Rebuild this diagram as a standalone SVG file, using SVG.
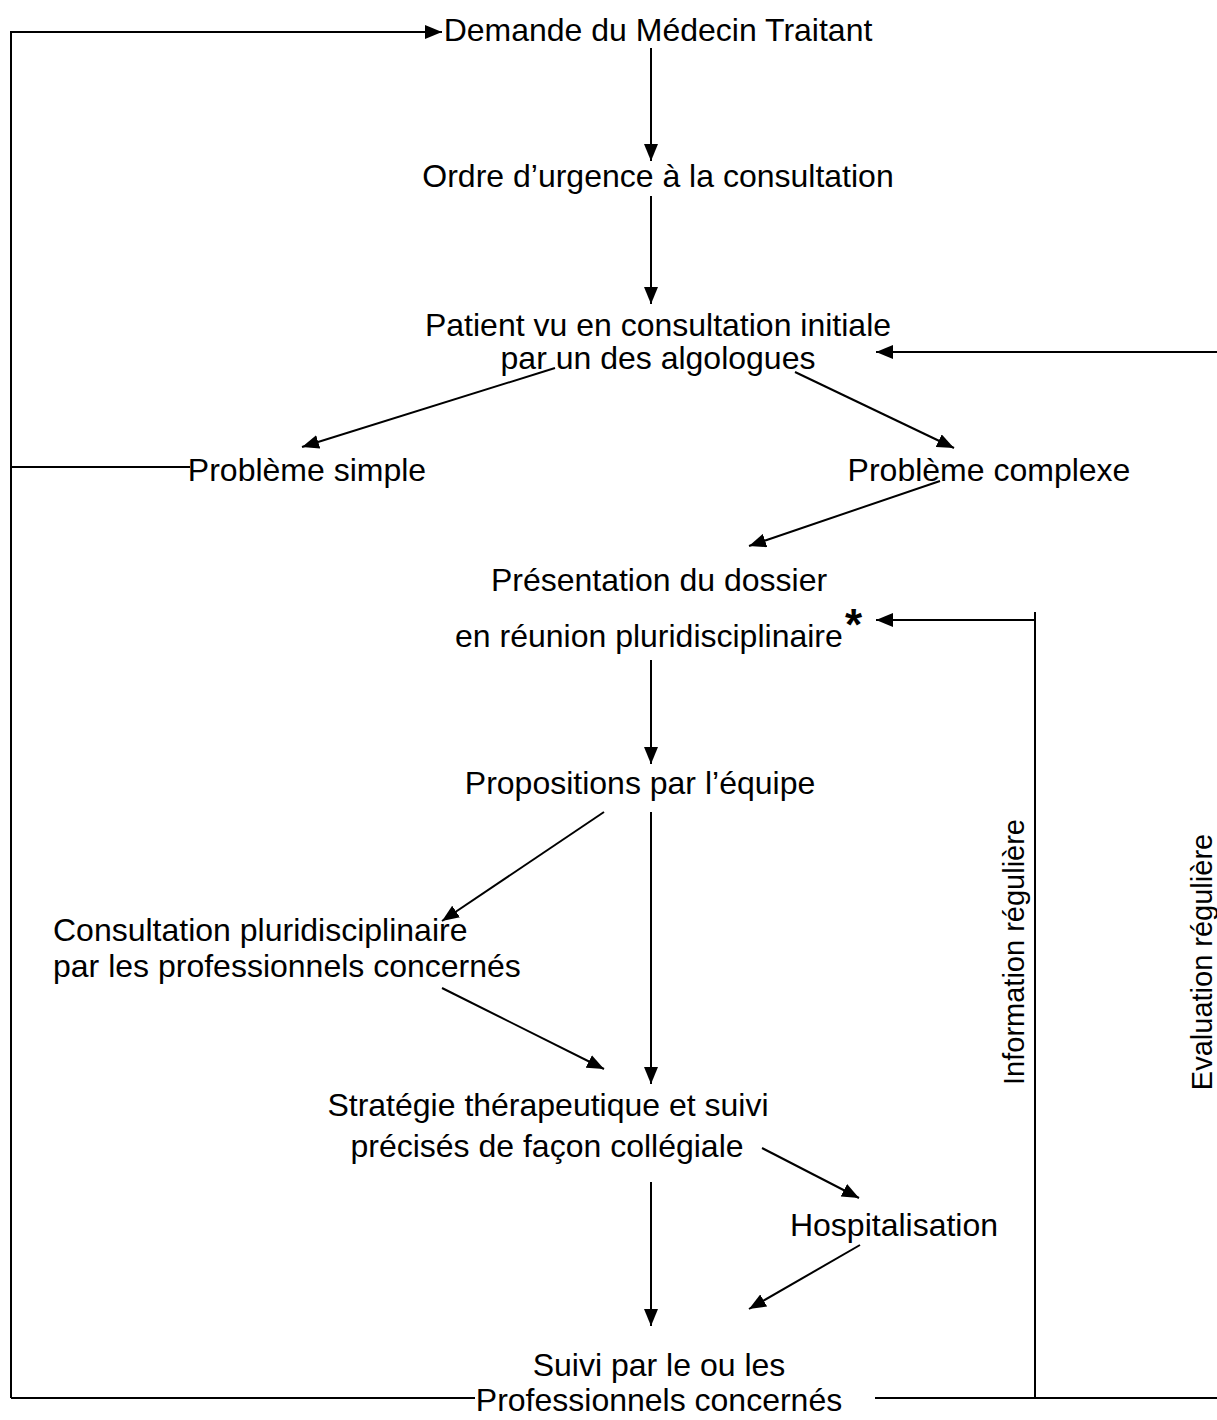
<svg xmlns="http://www.w3.org/2000/svg" width="1217" height="1420" viewBox="0 0 1217 1420">
<style>
text{font-family:"Liberation Sans",Arial,sans-serif;font-size:32px;fill:#000}
.m{text-anchor:middle}
.c line,.c polyline{stroke:#000;stroke-width:2;fill:none}
.r{font-size:29px;text-anchor:middle}
</style>
<defs>
<marker id="ah" markerUnits="userSpaceOnUse" markerWidth="17" markerHeight="14" refX="17" refY="7" viewBox="0 0 17 14" orient="auto">
<path d="M0,0 L17,7 L0,14 z" fill="#000"/>
</marker>
</defs>
<rect width="1217" height="1420" fill="#fff"/>
<g class="c" id="connectors">
<polyline points="11,1398 11,32 442,32" marker-end="url(#ah)"/>
<line x1="11" y1="467" x2="190" y2="467"/>
<line x1="11" y1="1398" x2="475" y2="1398"/>
<line x1="875" y1="1398" x2="1217" y2="1398"/>
<line x1="1035" y1="612" x2="1035" y2="1398"/>
<line x1="1035" y1="620" x2="876" y2="620" marker-end="url(#ah)"/>
<line x1="1217" y1="352" x2="876" y2="352" marker-end="url(#ah)"/>
<line x1="651" y1="48" x2="651" y2="161" marker-end="url(#ah)"/>
<line x1="651" y1="196" x2="651" y2="304" marker-end="url(#ah)"/>
<line x1="555" y1="368" x2="302" y2="447" marker-end="url(#ah)"/>
<line x1="795" y1="372" x2="954" y2="448" marker-end="url(#ah)"/>
<line x1="940" y1="481" x2="749" y2="546" marker-end="url(#ah)"/>
<line x1="651" y1="660" x2="651" y2="764" marker-end="url(#ah)"/>
<line x1="604" y1="812" x2="442" y2="921" marker-end="url(#ah)"/>
<line x1="651" y1="812" x2="651" y2="1084" marker-end="url(#ah)"/>
<line x1="442" y1="988" x2="604" y2="1069" marker-end="url(#ah)"/>
<line x1="762" y1="1148" x2="859" y2="1198" marker-end="url(#ah)"/>
<line x1="651" y1="1182" x2="651" y2="1326" marker-end="url(#ah)"/>
<line x1="860" y1="1245" x2="749" y2="1309" marker-end="url(#ah)"/>
</g>
<g id="n1"><text class="m" x="658" y="41">Demande du Médecin Traitant</text></g>
<g id="n2"><text class="m" x="658" y="187">Ordre d’urgence à la consultation</text></g>
<g id="n3"><text class="m" x="658" y="336">Patient vu en consultation initiale</text><text class="m" x="658" y="369">par un des algologues</text></g>
<g id="n4"><text class="m" x="307" y="481">Problème simple</text></g>
<g id="n5"><text class="m" x="989" y="481">Problème complexe</text></g>
<g id="n6"><text class="m" x="659" y="591">Présentation du dossier</text><text x="455" y="647">en réunion pluridisciplinaire</text><text x="845" y="640" style="font-size:44px;font-weight:bold">*</text></g>
<g id="n7"><text class="m" x="640" y="794">Propositions par l’équipe</text></g>
<g id="n8"><text x="53" y="941">Consultation pluridisciplinaire</text><text x="53" y="977">par les professionnels concernés</text></g>
<g id="n9"><text class="m" x="548" y="1116">Stratégie thérapeutique et suivi</text><text class="m" x="547" y="1157">précisés de façon collégiale</text></g>
<g id="n10"><text class="m" x="894" y="1236">Hospitalisation</text></g>
<g id="n11"><text class="m" x="659" y="1376">Suivi par le ou les</text><text class="m" x="659" y="1411">Professionnels concernés</text></g>
<g id="l1"><text class="r" transform="translate(1024,952) rotate(-90)">Information régulière</text></g>
<g id="l2"><text class="r" transform="translate(1212,962) rotate(-90)">Evaluation régulière</text></g>
</svg>
